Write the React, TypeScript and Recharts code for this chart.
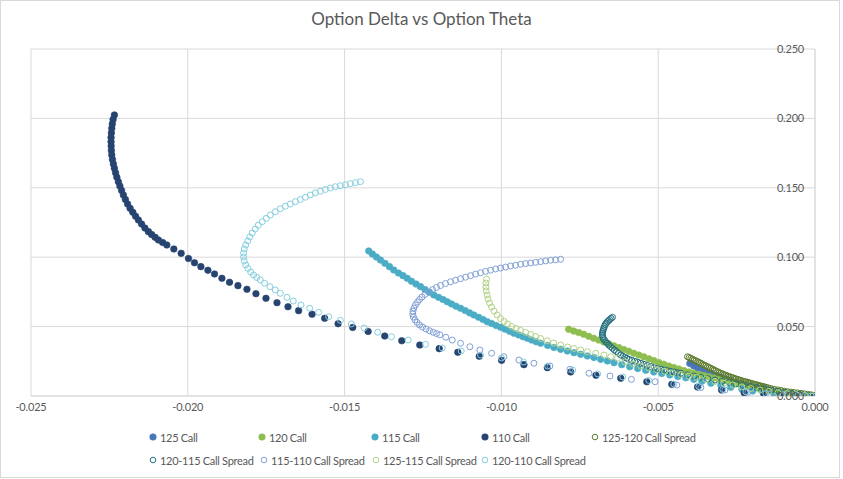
import React from 'react';
import { ScatterChart, Scatter, XAxis, YAxis, CartesianGrid, Legend } from 'recharts';

type Pt = [number, number];

// [theta, delta]
const call125: Pt[] = [
  [-0.003991, 0.0234], [-0.003864, 0.0216], [-0.003736, 0.0202], [-0.003608, 0.0189], [-0.00348, 0.0177],
  [-0.003321, 0.0162], [-0.003161, 0.0148], [-0.003001, 0.0135], [-0.002842, 0.0122], [-0.002682, 0.0111],
  [-0.002522, 0.01], [-0.002363, 0.009], [-0.002203, 0.0081], [-0.002044, 0.0072], [-0.001884, 0.0063],
  [-0.001724, 0.0055], [-0.001565, 0.0048], [-0.001405, 0.004], [-0.001245, 0.0034], [-0.001086, 0.0027],
  [-0.000926, 0.0022], [-0.000766, 0.0016], [-0.000607, 0.0011], [-0.000447, 0.0007], [-0.000287, 0.0004],
  [-0.000128, 0.0001], [0, 0],
];

const call120: Pt[] = [
  [-0.007855, 0.0481], [-0.007695, 0.0468], [-0.007535, 0.0457], [-0.007376, 0.0445], [-0.007216, 0.043],
  [-0.007057, 0.0416], [-0.006897, 0.0403], [-0.006737, 0.0389], [-0.006578, 0.0376], [-0.006418, 0.0362],
  [-0.006258, 0.0349], [-0.006099, 0.0335], [-0.005939, 0.0322], [-0.005779, 0.0308], [-0.00562, 0.0295],
  [-0.00546, 0.0282], [-0.0053, 0.0268], [-0.005141, 0.0255], [-0.004981, 0.0241], [-0.004821, 0.0229],
  [-0.004662, 0.0216], [-0.004502, 0.0205], [-0.004342, 0.0194], [-0.004183, 0.0183], [-0.004023, 0.0173],
  [-0.003864, 0.0164], [-0.003704, 0.0156], [-0.003544, 0.0147], [-0.003385, 0.0138], [-0.003225, 0.013],
  [-0.003065, 0.0121], [-0.002906, 0.0112], [-0.002746, 0.0104], [-0.002586, 0.0095], [-0.002427, 0.0087],
  [-0.002267, 0.0079], [-0.002107, 0.0071], [-0.001948, 0.0063], [-0.001788, 0.0055], [-0.001628, 0.0048],
  [-0.001469, 0.0041], [-0.001309, 0.0035], [-0.001149, 0.0029], [-0.00099, 0.0023], [-0.00083, 0.0018],
  [-0.000671, 0.0013], [-0.000511, 0.0009], [-0.000351, 0.0005], [-0.000192, 0.0001], [-0.000032, 0],
];

const call115: Pt[] = [
  [-0.014231, 0.1045], [-0.014113, 0.1023], [-0.013985, 0.1001], [-0.013858, 0.098], [-0.013714, 0.0956],
  [-0.01357, 0.0932], [-0.013433, 0.0908], [-0.013283, 0.0886], [-0.013139, 0.0867], [-0.013005, 0.0848],
  [-0.012868, 0.0827], [-0.012724, 0.0807], [-0.01258, 0.0788], [-0.012437, 0.0767], [-0.012293, 0.0748],
  [-0.012156, 0.0728], [-0.012006, 0.0711], [-0.011862, 0.0695], [-0.011728, 0.0679], [-0.011591, 0.0663],
  [-0.011447, 0.0647], [-0.011303, 0.0632], [-0.01116, 0.0616], [-0.011016, 0.0599], [-0.010879, 0.0584],
  [-0.010728, 0.0567], [-0.010585, 0.0551], [-0.010451, 0.0535], [-0.010313, 0.0522], [-0.01017, 0.0508],
  [-0.010026, 0.0495], [-0.009882, 0.0481], [-0.009739, 0.0466], [-0.009601, 0.0452], [-0.009451, 0.044],
  [-0.009308, 0.0427], [-0.009174, 0.0416], [-0.009036, 0.0403], [-0.008893, 0.0391], [-0.008749, 0.038],
  [-0.008525, 0.0364], [-0.008324, 0.0349], [-0.00811, 0.0336], [-0.007896, 0.0324], [-0.007686, 0.0312],
  [-0.007472, 0.03], [-0.007258, 0.0288], [-0.007047, 0.0277], [-0.006833, 0.0264], [-0.006619, 0.0252],
  [-0.006408, 0.024], [-0.006162, 0.0226], [-0.005907, 0.0211], [-0.005652, 0.0198], [-0.005396, 0.0185],
  [-0.005141, 0.0173], [-0.004885, 0.0162], [-0.00463, 0.0151], [-0.004374, 0.014], [-0.004119, 0.0131],
  [-0.003864, 0.012], [-0.003608, 0.0106], [-0.003321, 0.0092], [-0.003001, 0.0077], [-0.002682, 0.0063],
  [-0.002331, 0.0049], [-0.001989, 0.0036], [-0.00166, 0.0027], [-0.001309, 0.0019], [-0.00099, 0.0012],
  [-0.000671, 0.0007], [-0.000351, 0.0002], [-0.000032, 0],
];

const call110: Pt[] = [
  [-0.022341, 0.2025], [-0.022383, 0.1992], [-0.022408, 0.196], [-0.022424, 0.1929], [-0.022437, 0.1895],
  [-0.022447, 0.1862], [-0.022447, 0.1832], [-0.022444, 0.1801], [-0.022437, 0.1769], [-0.022424, 0.1736],
  [-0.022402, 0.1704], [-0.022373, 0.1672], [-0.022341, 0.1641], [-0.022303, 0.1608], [-0.022262, 0.1576],
  [-0.022214, 0.1544], [-0.022166, 0.1513], [-0.022111, 0.1481], [-0.022054, 0.1448], [-0.02199, 0.1416],
  [-0.02192, 0.1383], [-0.02184, 0.1352], [-0.021754, 0.1324], [-0.021665, 0.1295], [-0.021575, 0.1268],
  [-0.021473, 0.1239], [-0.021368, 0.121], [-0.021256, 0.1184], [-0.021154, 0.1164], [-0.021042, 0.1143],
  [-0.020937, 0.1124], [-0.020802, 0.1106], [-0.020668, 0.1088], [-0.020445, 0.1059], [-0.020212, 0.1028],
  [-0.019979, 0.0991], [-0.019787, 0.096], [-0.019583, 0.0932], [-0.019359, 0.0906], [-0.019148, 0.0879],
  [-0.018912, 0.0848], [-0.018669, 0.0819], [-0.018401, 0.0795], [-0.018114, 0.0769], [-0.017827, 0.0737],
  [-0.017507, 0.0704], [-0.017156, 0.0672], [-0.016805, 0.0643], [-0.016466, 0.0615], [-0.016038, 0.0589],
  [-0.015636, 0.056], [-0.015208, 0.0521], [-0.014742, 0.0494], [-0.01425, 0.0465], [-0.01372, 0.0432],
  [-0.013177, 0.0398], [-0.012603, 0.0367], [-0.011983, 0.0341], [-0.01139, 0.0315], [-0.010706, 0.0286],
  [-0.009994, 0.0257], [-0.009282, 0.0226], [-0.008535, 0.0204], [-0.007791, 0.0173], [-0.006983, 0.0149],
  [-0.006194, 0.0128], [-0.005364, 0.0103], [-0.004566, 0.0084], [-0.003745, 0.0065], [-0.002979, 0.0043],
  [-0.002257, 0.0024], [-0.001628, 0.0014], [-0.001086, 0.0007], [-0.000607, 0.0002], [-0.000128, 0],
];

const spread125_120: Pt[] = [
  [-0.004065, 0.0283], [-0.004014, 0.0277], [-0.003959, 0.0272], [-0.003905, 0.0265], [-0.003854, 0.0259],
  [-0.003793, 0.0253], [-0.003736, 0.0247], [-0.003688, 0.0241], [-0.00364, 0.0236], [-0.003586, 0.0229],
  [-0.003535, 0.0223], [-0.00348, 0.0217], [-0.003426, 0.0211], [-0.003375, 0.0205], [-0.003321, 0.02],
  [-0.003266, 0.0193], [-0.003215, 0.0187], [-0.003161, 0.0181], [-0.003107, 0.0175], [-0.003056, 0.0169],
  [-0.003001, 0.0164], [-0.002947, 0.0159], [-0.002896, 0.0154], [-0.002842, 0.0149], [-0.002788, 0.0145],
  [-0.002736, 0.014], [-0.002682, 0.0136], [-0.002628, 0.0132], [-0.002577, 0.0128], [-0.002516, 0.0123],
  [-0.002459, 0.0119], [-0.002411, 0.0115], [-0.002363, 0.0112], [-0.002309, 0.0108], [-0.002257, 0.0105],
  [-0.002203, 0.0102], [-0.002149, 0.0099], [-0.002098, 0.0095], [-0.002044, 0.0092], [-0.001989, 0.0088],
  [-0.001938, 0.0085], [-0.001884, 0.0081], [-0.00183, 0.0079], [-0.001779, 0.0075], [-0.001724, 0.0072],
  [-0.00167, 0.0069], [-0.001619, 0.0066], [-0.001565, 0.0063], [-0.00151, 0.006],
  [-0.001405, 0.0054], [-0.0013, 0.0048], [-0.001191, 0.0044], [-0.001086, 0.004], [-0.00098, 0.0035],
  [-0.000872, 0.0031], [-0.000766, 0.0028], [-0.000661, 0.0025], [-0.000552, 0.0022], [-0.000447, 0.0019],
  [-0.000342, 0.0016], [-0.000233, 0.0012], [-0.000128, 0.0009], [-0.000022, 0.0004],
];

const spread120_115: Pt[] = [
  [-0.006459, 0.0567], [-0.006504, 0.0559], [-0.006546, 0.0551], [-0.006584, 0.0543], [-0.006619, 0.0535],
  [-0.006654, 0.0525], [-0.006689, 0.0515], [-0.006715, 0.0501], [-0.006737, 0.0488], [-0.006753, 0.0476],
  [-0.006769, 0.0465], [-0.006776, 0.0452], [-0.006779, 0.044], [-0.006769, 0.0427], [-0.006753, 0.0414],
  [-0.006715, 0.0403], [-0.006673, 0.0391], [-0.006625, 0.038], [-0.006578, 0.0367], [-0.00652, 0.0356],
  [-0.006459, 0.0344], [-0.006399, 0.0332], [-0.006338, 0.0321], [-0.006268, 0.0308], [-0.006194, 0.0295],
  [-0.006131, 0.0287], [-0.006067, 0.0279], [-0.006, 0.0272], [-0.005929, 0.0264], [-0.005843, 0.0257],
  [-0.005747, 0.025], [-0.005652, 0.0243], [-0.005556, 0.0236], [-0.005454, 0.0228], [-0.005348, 0.022],
  [-0.005237, 0.0212], [-0.005131, 0.0204], [-0.005023, 0.0198], [-0.004917, 0.0193], [-0.004812, 0.0187],
  [-0.004703, 0.0182], [-0.004598, 0.0177], [-0.004493, 0.0173], [-0.004384, 0.0168], [-0.004279, 0.0164],
  [-0.004065, 0.0153], [-0.003854, 0.0144],
  [-0.00364, 0.0135], [-0.003417, 0.0125], [-0.003193, 0.0115], [-0.002969, 0.0106], [-0.002746, 0.0097],
  [-0.002522, 0.0087], [-0.002299, 0.0078], [-0.002075, 0.0068], [-0.001852, 0.006], [-0.001628, 0.0051],
  [-0.001405, 0.0043], [-0.001181, 0.0034], [-0.000958, 0.0025], [-0.000734, 0.0017], [-0.000511, 0.0011],
  [-0.000287, 0.0005], [-0.000064, 0],
];

const spread115_110: Pt[] = [
  [-0.00811, 0.0985], [-0.00827, 0.0981], [-0.00843, 0.0978], [-0.008589, 0.0973], [-0.008749, 0.0968],
  [-0.008908, 0.0963], [-0.009068, 0.0958], [-0.009228, 0.0954], [-0.009387, 0.0949], [-0.009547, 0.0942],
  [-0.009707, 0.0937], [-0.009866, 0.0929], [-0.010026, 0.0922], [-0.010186, 0.0915], [-0.010345, 0.0906],
  [-0.010505, 0.0898], [-0.010665, 0.0888], [-0.010824, 0.0878], [-0.010984, 0.0867], [-0.011144, 0.0856],
  [-0.011303, 0.0845], [-0.011463, 0.0834], [-0.011623, 0.0823], [-0.011782, 0.081], [-0.011942, 0.0796],
  [-0.01207, 0.0782], [-0.012197, 0.0766], [-0.012325, 0.0749], [-0.012437, 0.0731], [-0.012533, 0.0713],
  [-0.012612, 0.0695], [-0.012676, 0.0677], [-0.01274, 0.0656], [-0.012788, 0.0634], [-0.01282, 0.0612],
  [-0.012826, 0.0591], [-0.012804, 0.0569], [-0.012756, 0.0548], [-0.012692, 0.053], [-0.012612, 0.0512],
  [-0.012517, 0.0497], [-0.012405, 0.0483], [-0.012293, 0.047], [-0.012175, 0.0459], [-0.01207, 0.045],
  [-0.011964, 0.0441], [-0.011773, 0.0423], [-0.011568, 0.0403], [-0.011303, 0.038], [-0.011006, 0.0355],
  [-0.010687, 0.0331], [-0.010313, 0.0308], [-0.009921, 0.0283], [-0.009442, 0.0259], [-0.008963, 0.0236],
  [-0.008452, 0.0216], [-0.007813, 0.0192], [-0.007207, 0.0164], [-0.006536, 0.0144], [-0.005853, 0.012],
  [-0.005099, 0.0103], [-0.004406, 0.0079], [-0.00364, 0.0061], [-0.002874, 0.0043], [-0.002139, 0.0027],
  [-0.001469, 0.0014], [-0.000894, 0.0007], [-0.000415, 0.0002], [-0.000064, 0],
];

const spread125_115: Pt[] = [
  [-0.010473, 0.0841], [-0.010495, 0.0814], [-0.010495, 0.0785], [-0.010483, 0.0757], [-0.010457, 0.0728],
  [-0.010425, 0.0699], [-0.010377, 0.067], [-0.010313, 0.0641], [-0.010234, 0.0612], [-0.010138, 0.0584],
  [-0.010026, 0.0558], [-0.009914, 0.0537], [-0.009803, 0.0519], [-0.009675, 0.0501], [-0.009531, 0.0486],
  [-0.009387, 0.0472], [-0.009228, 0.0458], [-0.009068, 0.0443], [-0.008908, 0.0429], [-0.008749, 0.0414],
  [-0.008535, 0.0398], [-0.008334, 0.0382], [-0.00811, 0.0367], [-0.007887, 0.0353], [-0.007686, 0.0342],
  [-0.007472, 0.0331], [-0.007258, 0.0319], [-0.006993, 0.0308], [-0.006728, 0.0295], [-0.006514, 0.0283],
  [-0.0063, 0.0272], [-0.006067, 0.0245], [-0.005811, 0.0231], [-0.005556, 0.0216], [-0.0053, 0.0202],
  [-0.005045, 0.0189], [-0.00479, 0.0178], [-0.004534, 0.0166], [-0.004279, 0.0155], [-0.004023, 0.0144],
  [-0.003768, 0.0133], [-0.00348, 0.0119], [-0.003193, 0.0105], [-0.002906, 0.0092], [-0.002618, 0.0079],
  [-0.002331, 0.0066], [-0.002044, 0.0054], [-0.001756, 0.0043], [-0.001469, 0.0033], [-0.001181, 0.0024],
  [-0.000894, 0.0017], [-0.000607, 0.001], [-0.000319, 0.0004], [-0.000064, 0],
];

const spread120_110: Pt[] = [
  [-0.014496, 0.1544], [-0.014656, 0.1537], [-0.014816, 0.153], [-0.014975, 0.1522], [-0.015135, 0.1515],
  [-0.015294, 0.1508], [-0.015454, 0.1499], [-0.015614, 0.1488], [-0.015773, 0.1475], [-0.015933, 0.1463],
  [-0.016093, 0.1448], [-0.016252, 0.1432], [-0.016412, 0.1416], [-0.016572, 0.14], [-0.016731, 0.1383],
  [-0.016891, 0.1367], [-0.017051, 0.1349], [-0.01721, 0.1328], [-0.01737, 0.1304], [-0.017498, 0.128],
  [-0.017625, 0.1256], [-0.017753, 0.123], [-0.017849, 0.1203], [-0.017945, 0.1174], [-0.018024, 0.1146],
  [-0.018088, 0.1117], [-0.018152, 0.1088], [-0.0182, 0.1059], [-0.018222, 0.103], [-0.018222, 0.1001],
  [-0.0182, 0.0973], [-0.018152, 0.0944], [-0.018082, 0.0919], [-0.017993, 0.0893], [-0.017903, 0.0872],
  [-0.017801, 0.0854], [-0.017689, 0.0836], [-0.017552, 0.0812], [-0.01738, 0.0788], [-0.01721, 0.0764],
  [-0.017051, 0.074], [-0.016837, 0.0711], [-0.016636, 0.0684], [-0.01639, 0.0656], [-0.016115, 0.0632],
  [-0.015828, 0.0603], [-0.015508, 0.0571], [-0.015135, 0.0545], [-0.014784, 0.0519], [-0.014378, 0.049],
  [-0.013944, 0.0459], [-0.013506, 0.0427], [-0.012973, 0.0403], [-0.012421, 0.0372], [-0.011888, 0.0346],
  [-0.011281, 0.0324], [-0.010665, 0.0295], [-0.009994, 0.0274], [-0.009292, 0.0245], [-0.008525, 0.0216],
  [-0.007727, 0.0187], [-0.006929, 0.0159], [-0.006131, 0.0137], [-0.0053, 0.0112], [-0.004502, 0.0086],
  [-0.003704, 0.0068], [-0.002938, 0.0047], [-0.002203, 0.0029], [-0.001565, 0.0018], [-0.001022, 0.0009],
  [-0.000543, 0.0004], [-0.000128, 0],
];

const X_TICKS = [-0.025, -0.02, -0.015, -0.01, -0.005, 0];
const Y_TICKS = [0, 0.05, 0.1, 0.15, 0.2, 0.25];

const SERIES_NAMES = [
  '125 Call', '120 Call', '115 Call', '110 Call', '125-120 Call Spread',
  '120-115 Call Spread', '115-110 Call Spread', '125-115 Call Spread', '120-110 Call Spread',
];
const SERIES_DATA = [call125, call120, call115, call110, spread125_120, spread120_115, spread115_110, spread125_115, spread120_110];
const SERIES_COLORS = ['#4a76b8', '#8ebd50', '#4bacc6', '#274471', '#5e7c2e', '#23707f', '#809fd6', '#b3d387', '#86cfe0'];
const SERIES_FILLED = [true, true, true, true, false, false, false, false, false];

const FONT = 'Lato, "Open Sans", sans-serif';
const TEXT = '#595959';
const GRID = '#d9d9d9';

const LEGEND_POS: [number, number][] = [
  [153, 11], [262, 11], [375, 11], [485, 11], [595, 11],
  [153, 34], [264, 34], [376, 34], [485, 34],
];

const makeShape = (color: string, filled: boolean) => (props: any) => {
  if (props.cx == null || props.cy == null) return <g />;
  return (
    <circle
      cx={props.cx}
      cy={props.cy}
      r={filled ? 3.3 : 3}
      fill={filled ? color : 'none'}
      stroke={color}
      strokeWidth={filled ? 0.6 : 1}
    />
  );
};

const LegendContent = () => (
  <div style={{ position: 'relative', width: 843, height: 50, fontFamily: FONT, fontSize: 11, letterSpacing: -0.3, color: TEXT }}>
    {SERIES_NAMES.map((name, i) => {
      const [x, y] = LEGEND_POS[i];
      const c = SERIES_COLORS[i];
      const f = SERIES_FILLED[i];
      return (
        <div key={name} style={{ position: 'absolute', left: x - 4, top: y - 8, height: 16, display: 'flex', alignItems: 'center', whiteSpace: 'nowrap' }}>
          <svg width={8} height={8} style={{ marginRight: 3 }}>
            <circle cx={4} cy={4} r={f ? 3.3 : 2.8} fill={f ? c : 'none'} stroke={c} strokeWidth={f ? 0.5 : 1} />
          </svg>
          <span>{name}</span>
        </div>
      );
    })}
  </div>
);

const tickStyle = { fill: TEXT, fontSize: 11, fontFamily: FONT, letterSpacing: -0.2 };

export default function App() {
  return (
    <div style={{ position: 'absolute', left: 0, top: 0, width: 843, height: 479, background: '#fff' }}>
      <div style={{ position: 'absolute', left: 0, top: 0, width: 840, height: 478, border: `1px solid ${GRID}`, boxSizing: 'border-box' }} />
      <div style={{ position: 'absolute', left: 0, top: 8, width: 843, textAlign: 'center', fontFamily: FONT, fontSize: 17, color: TEXT, lineHeight: '22px' }}>
        Option Delta vs Option Theta
      </div>
      <ScatterChart width={843} height={479} margin={{ top: 49, right: 28, bottom: 3, left: 31 }} style={{ position: 'absolute', left: 0, top: 0 }}>
        <CartesianGrid stroke={GRID} strokeWidth={1} />
        <XAxis
          type="number"
          dataKey="x"
          domain={[-0.025, 0]}
          ticks={X_TICKS}
          tickFormatter={(v: number) => v.toFixed(3)}
          tick={tickStyle}
          tickLine={false}
          tickSize={0}
          tickMargin={7}
          axisLine={{ stroke: GRID }}
          height={30}
          allowDataOverflow
        />
        <YAxis
          type="number"
          dataKey="y"
          orientation="right"
          mirror
          domain={[0, 0.25]}
          ticks={Y_TICKS}
          tickFormatter={(v: number) => v.toFixed(3)}
          tick={tickStyle}
          tickLine={false}
          tickSize={0}
          tickMargin={11}
          axisLine={{ stroke: GRID }}
          width={1}
          allowDataOverflow
        />
        <Legend
          verticalAlign="bottom"
          content={() => <LegendContent />}
          wrapperStyle={{ left: 0, width: 843, height: 50 }}
        />
        {SERIES_NAMES.map((name, i) => (
          <Scatter
            key={name}
            name={name}
            data={SERIES_DATA[i].map(([x, y]) => ({ x, y }))}
            fill={SERIES_COLORS[i]}
            shape={makeShape(SERIES_COLORS[i], SERIES_FILLED[i])}
            isAnimationActive={false}
          />
        ))}
      </ScatterChart>
    </div>
  );
}
